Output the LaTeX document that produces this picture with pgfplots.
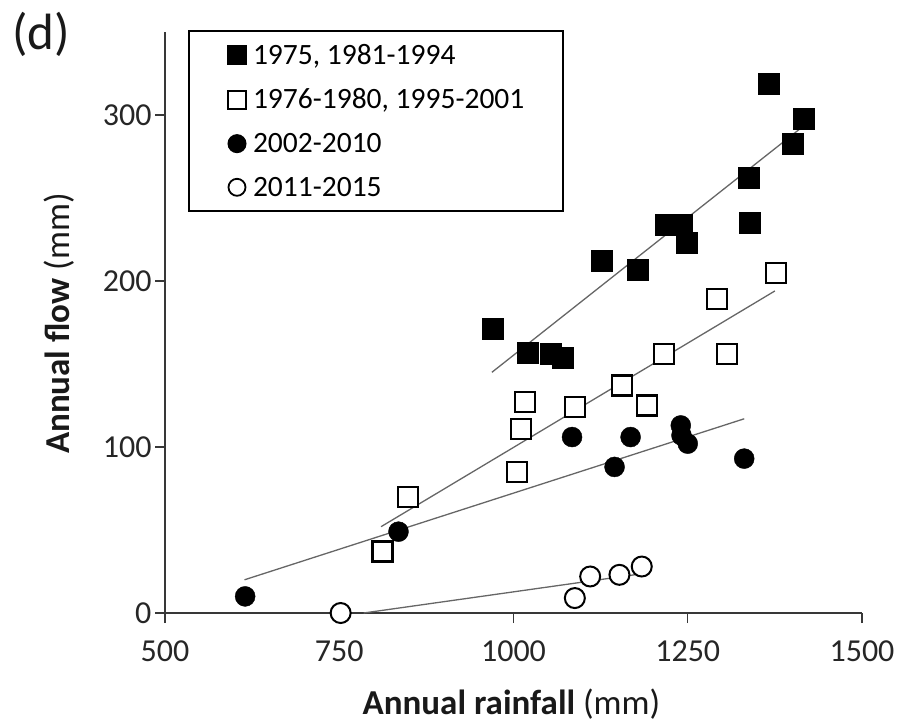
\documentclass[border=0pt]{standalone}
\usepackage{pgfplots}
\pgfplotsset{compat=1.18}
\usepackage{fontspec}
\setmainfont{Carlito}
\begin{document}
\begin{tikzpicture}
\begin{axis}[
  at={(0pt,0pt)}, anchor=south west,
  scale only axis, width=697pt, height=581pt,
  xmin=500, xmax=1500, ymin=0, ymax=350,
  axis lines=left,
  axis line style={-, line width=1.5pt, black!78},
  xtick={500,750,1000,1250,1500},
  ytick={0,100,200,300},
  tick align=outside,
  major tick length=10pt,
  tick style={line width=1.2pt, black!78},
  /pgf/number format/assume math mode=true,
  /pgf/number format/1000 sep={},
  ticklabel style={font=\fontsize{32}{38}\selectfont, text=black!85},
  xticklabel style={yshift=-14pt},
  xlabel={\textbf{Annual rainfall} (mm)},
  ylabel={\textbf{Annual flow} (mm)},
  label style={font=\fontsize{35}{42}\selectfont, text=black!90},
  xlabel style={at={(axis description cs:0.497,-0.1560)}, anchor=center},
  ylabel style={at={(axis description cs:-0.1515,0.498)}, anchor=center},
  clip=false,
  legend style={at={(axis description cs:0.033,1.0034)}, anchor=north west,
    draw=black, line width=2pt, font=\fontsize{29.5}{35}\selectfont,
    inner xsep=37pt, inner ysep=11pt, row sep=19pt},
  legend cell align=left,
  legend image code/.code={\draw[#1] plot coordinates {(0pt,0pt)};\path (-10pt,0pt) (13pt,0pt);},
]
\addplot[only marks, mark=square*, mark size=10.5pt, black,
  legend image post style={mark size=9pt}] table {
x y
970 171
1020 157
1053 156
1071 154
1127 212
1178 207
1218 234
1242 234
1248 223
1337 262
1339 235
1366 319
1400 283
1417 298
};
\addlegendentry{1975, 1981-1994}
\addplot[only marks, mark=square*, mark size=10pt, black, line width=2.2pt, mark options={fill=white},
  legend image post style={mark size=9pt, line width=2pt}] table {
x y
812 37
849 70
1005 85
1011 111
1016 127
1088 124
1156 137
1192 125
1216 156
1292 189
1306 156
1377 205
};
\addlegendentry{1976-1980, 1995-2001}
\addplot[only marks, mark=*, mark size=10pt, black,
  legend image post style={mark size=8.5pt}] table {
x y
615 10
835 49
1084 106
1145 88
1168 106
1240 113
1241 107
1250 102
1331 93
};
\addlegendentry{2002-2010}
\addplot[only marks, mark=*, mark size=10pt, black, line width=2pt, mark options={fill=white},
  legend image post style={mark size=8.5pt, line width=1.8pt}] table {
x y
752 0
1088 9
1110 22
1152 23
1184 28
};
\addlegendentry{2011-2015}
\addplot[forget plot, no marks, black!60, line width=1.3pt] coordinates {(969,145) (1412,292)};
\addplot[forget plot, no marks, black!60, line width=1.3pt] coordinates {(810,52) (1375,194)};
\addplot[forget plot, no marks, black!60, line width=1.3pt] coordinates {(614,20) (1331,117)};
\addplot[forget plot, no marks, black!60, line width=1.3pt] coordinates {(785,0) (1190,24)};
\end{axis}
\node[font=\fontsize{51}{60}\selectfont, text=black!90] at (-124pt,579pt) {(d)};
\pgfresetboundingbox
\path (-165pt,-111pt) rectangle (734pt,613pt);
\end{tikzpicture}
\end{document}
